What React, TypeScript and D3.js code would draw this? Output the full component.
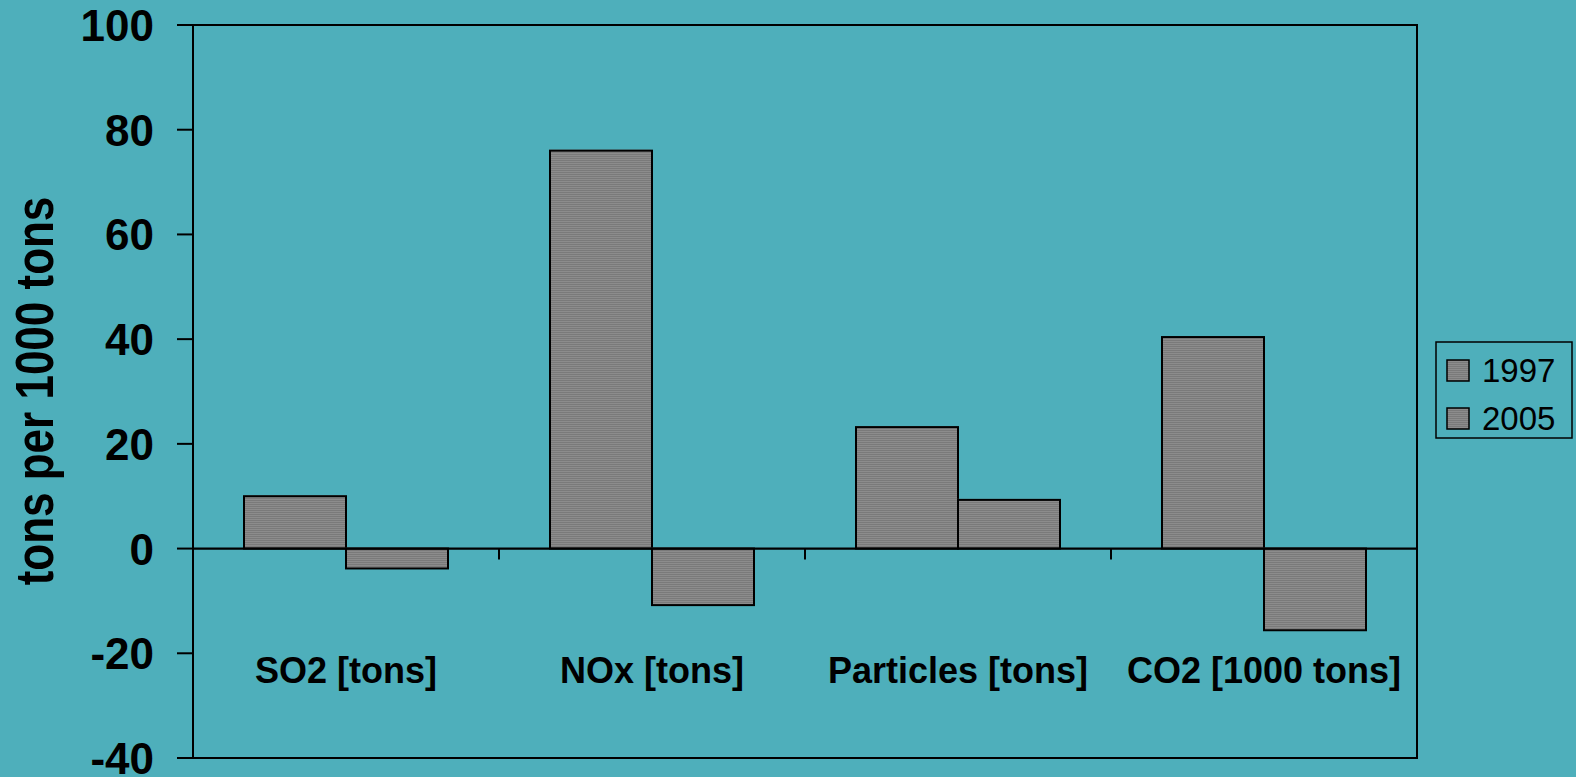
import React from "react";
import * as d3 from "d3";

const categories = ["SO2 [tons]", "NOx [tons]", "Particles [tons]", "CO2 [1000 tons]"];
const seriesNames = ["1997", "2005"];
const values1997 = [10, 76, 23.2, 40.4];
const values2005 = [-3.8, -10.8, 9.3, -15.6];
const yTicks = [-40, -20, 0, 20, 40, 60, 80, 100];
const yTitle = "tons per 1000 tons";

const W = 1576;
const H = 777;
const FONT = "'Liberation Sans', Arial, Helvetica, sans-serif";
const BG = "#4eafbb";

export default function App() {
  const left = 193;
  const right = 1417;
  const top = 25;
  const bottom = 758;

  const x = d3.scaleBand<string>().domain(categories).range([left, right]).paddingInner(0).paddingOuter(0);
  const y = d3.scaleLinear().domain([-40, 100]).range([bottom, top]);
  const bw = x.bandwidth();
  const inner = d3.scaleBand<string>().domain(seriesNames).range([bw / 6, bw - bw / 6]).padding(0);
  const series = [values1997, values2005];
  const y0 = y(0);

  return (
    <svg width={W} height={H} style={{ position: "absolute", left: 0, top: 0, display: "block" }} fontFamily={FONT}>
      <defs>
        <pattern id="hatch" width="4" height="2" patternUnits="userSpaceOnUse">
          <rect width="4" height="2" fill="#8c8c8c" />
          <rect width="4" height="1" fill="#7a7a7a" />
        </pattern>
      </defs>
      <rect x={0} y={0} width={W} height={H} fill={BG} />

      {/* plot border */}
      <rect x={left} y={top} width={right - left} height={bottom - top} fill="none" stroke="#000" strokeWidth={2} />

      {/* bars */}
      {categories.map((c, i) =>
        seriesNames.map((s, j) => {
          const v = series[j][i];
          const bx = (x(c) as number) + (inner(s) as number);
          const w = inner.bandwidth();
          const yv = y(v);
          const yt = Math.min(yv, y0);
          const h = Math.abs(yv - y0);
          return (
            <g key={c + s}>
              <rect x={bx - 1} y={yt - 1} width={w} height={h} fill="#8e8e8e" opacity={0.8} />
              <rect x={bx} y={yt} width={w} height={h} fill="url(#hatch)" stroke="#000" strokeWidth={2} />
            </g>
          );
        })
      )}

      {/* zero line */}
      <line x1={left} x2={right} y1={y0} y2={y0} stroke="#000" strokeWidth={2.2} />
      {/* category ticks */}
      {categories.slice(1).map((c) => (
        <line key={c} x1={x(c) as number} x2={x(c) as number} y1={y0} y2={y0 + 11} stroke="#000" strokeWidth={2} />
      ))}

      {/* y axis */}
      <line x1={left} x2={left} y1={top} y2={bottom} stroke="#000" strokeWidth={2} />
      {yTicks.map((t) => (
        <g key={t}>
          <line x1={left - 16} x2={left} y1={y(t)} y2={y(t)} stroke="#000" strokeWidth={2} />
          <text x={154} y={y(t) + 16} textAnchor="end" fontSize={44} fontWeight="bold" fill="#000">
            {t}
          </text>
        </g>
      ))}

      {/* category labels */}
      {categories.map((c) => (
        <text key={c} x={(x(c) as number) + bw / 2} y={683} textAnchor="middle" fontSize={36} fontWeight="bold" fill="#000">
          {c}
        </text>
      ))}

      {/* y title */}
      <text
        transform="translate(53,391) rotate(-90) scale(1,1.22)"
        textAnchor="middle"
        fontSize={44}
        fontWeight="bold"
        fill="#000"
      >
        {yTitle}
      </text>

      {/* legend */}
      <rect x={1436} y={342} width={136} height={96} fill="none" stroke="#000" strokeWidth={1.5} />
      {seriesNames.map((s, j) => (
        <g key={s}>
          <rect x={1447} y={360 + j * 48} width={22} height={21} fill="url(#hatch)" stroke="#000" strokeWidth={1.5} />
          <text x={1482} y={382 + j * 48} fontSize={33} fill="#000">
            {s}
          </text>
        </g>
      ))}
    </svg>
  );
}
